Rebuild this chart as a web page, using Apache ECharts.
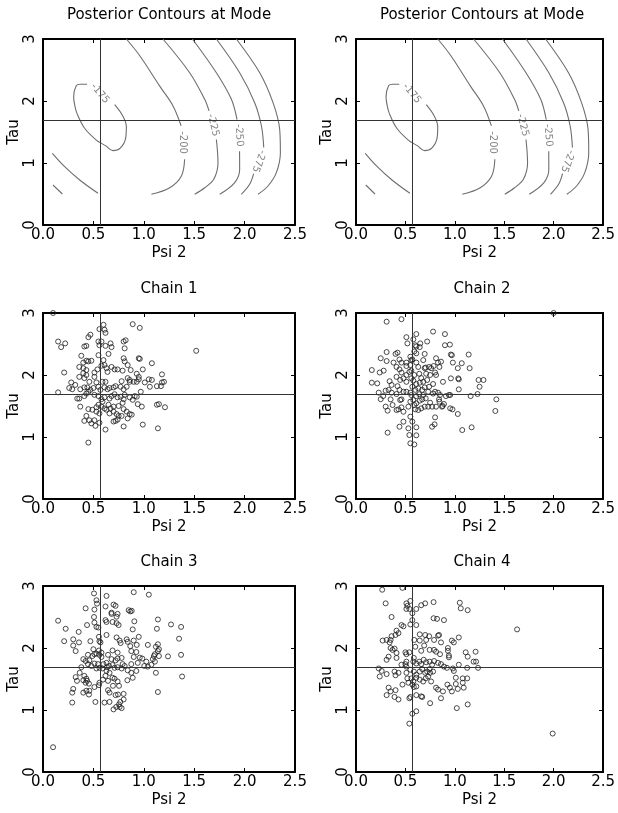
<!DOCTYPE html>
<html>
<head>
<meta charset="utf-8">
<script src="https://cdn.jsdelivr.net/npm/echarts@6/dist/echarts.min.js"></script>
<style>
html,body{margin:0;padding:0;background:#fff;}
#chart{width:618px;height:813px;}
</style>
</head>
<body>
<div id="chart"></div>
<script>
// ---------- data ----------
const X_TICKS = [0.0, 0.5, 1.0, 1.5, 2.0, 2.5];
const Y_TICKS = [0, 1, 2, 3];
const MODE_PSI = 0.57;
const MODE_TAU = 1.69;

const PANEL_TITLES = ['Posterior Contours at Mode', 'Posterior Contours at Mode', 'Chain 1', 'Chain 2', 'Chain 3', 'Chain 4'];

// contour line pieces [psi, tau] (broken where labels sit)
const CONTOUR_175 = [[0.437,2.27],[0.37,2.27],[0.331,2.25],[0.304,2.07],[0.315,1.93],[0.337,1.80],[0.413,1.56],[0.529,1.37],[0.62,1.28],[0.694,1.20],[0.767,1.24],[0.82,1.40],[0.827,1.59],[0.787,1.77],[0.711,1.94]];
const CONTOUR_200A = [[0.827,3.0],[0.96,2.73],[1.158,2.24],[1.29,1.92],[1.37,1.60]];
const CONTOUR_200B = [[1.405,1.06],[1.373,0.79],[1.257,0.60],[1.075,0.495]];
const CONTOUR_225A = [[1.19,3.0],[1.455,2.456],[1.604,2.027],[1.647,1.84]];
const CONTOUR_225B = [[1.72,1.38],[1.736,1.005],[1.694,0.737],[1.604,0.60],[1.505,0.495]];
const CONTOUR_250A = [[1.482,3.0],[1.72,2.456],[1.869,2.027],[1.925,1.70]];
const CONTOUR_250B = [[1.95,1.19],[1.951,0.898],[1.902,0.683],[1.753,0.495]];
const CONTOUR_275A = [[1.72,3.0],[1.951,2.456],[2.10,1.973],[2.167,1.597],[2.19,1.25]];
const CONTOUR_275B = [[2.09,0.83],[2.05,0.656],[1.968,0.495]];
const CONTOUR_300 = [[1.918,3.0],[2.15,2.456],[2.282,1.973],[2.348,1.544],[2.355,1.166],[2.315,0.844],[2.232,0.629],[2.133,0.495]];
const CONTOUR_LOW1 = [[0.093,1.156],[0.215,0.941],[0.364,0.726],[0.546,0.511]];
const CONTOUR_LOW2 = [[0.099,0.645],[0.192,0.50]];
const CONTOUR_LEVELS = ['-175', '-200', '-225', '-250', '-275'];
const CONTOUR_LABEL_AT = [[0.565,2.12],[1.383,1.33],[1.687,1.61],[1.945,1.447],[2.14,1.03]];
const CONTOUR_LABEL_ANGLE = [-50, -90, -76, -86, -110];

const CHAIN1 = [[0.10,3.00],[0.60,2.81],[0.61,2.73],[0.62,2.68],[0.56,2.74],[0.89,2.82],[0.96,2.76],[0.47,2.65],[0.45,2.61],[0.41,2.46],[0.43,2.47],[0.15,2.54],[0.18,2.45],[0.22,2.51],[0.55,2.54],[0.58,2.54],[0.56,2.48],[0.62,2.47],[0.67,2.51],[0.68,2.45],[0.65,2.34],[0.82,2.56],[0.80,2.54],[0.81,2.43],[1.52,2.39],[0.38,2.31],[0.43,2.23],[0.40,2.20],[0.45,2.22],[0.48,2.23],[0.60,2.24],[0.55,2.32],[0.61,2.16],[0.80,2.27],[0.81,2.22],[0.84,2.16],[0.95,2.27],[0.96,2.26],[1.08,2.19],[0.21,2.04],[0.36,2.13],[0.40,2.11],[0.43,2.08],[0.40,2.03],[0.43,2.00],[0.51,2.04],[0.54,2.09],[0.51,1.97],[0.58,2.15],[0.63,2.11],[0.64,2.05],[0.68,2.13],[0.71,2.09],[0.74,2.09],[0.79,2.07],[0.87,2.08],[0.93,2.02],[0.99,2.09],[1.18,2.01],[0.36,1.97],[0.41,1.95],[0.46,1.89],[0.53,1.88],[0.59,1.89],[0.62,1.89],[0.78,1.90],[0.84,1.95],[0.86,1.92],[0.86,1.89],[0.90,1.89],[0.95,1.97],[0.95,1.93],[0.93,1.89],[1.05,1.93],[1.08,1.92],[1.01,1.88],[1.18,1.88],[1.20,1.89],[0.28,1.88],[0.32,1.84],[0.26,1.79],[0.37,1.77],[0.41,1.80],[0.44,1.80],[0.47,1.76],[0.50,1.79],[0.55,1.81],[0.57,1.76],[0.61,1.80],[0.64,1.77],[0.66,1.79],[0.70,1.80],[0.72,1.82],[0.77,1.81],[0.80,1.77],[0.83,1.81],[0.15,1.72],[0.29,1.77],[1.06,1.81],[1.13,1.82],[1.17,1.82],[0.97,1.73],[0.36,1.62],[0.34,1.62],[0.41,1.66],[0.43,1.70],[0.45,1.73],[0.51,1.68],[0.55,1.66],[0.58,1.61],[0.59,1.57],[0.61,1.64],[0.66,1.62],[0.68,1.66],[0.71,1.69],[0.74,1.64],[0.77,1.65],[0.80,1.61],[0.79,1.55],[0.81,1.68],[0.86,1.64],[0.89,1.60],[0.93,1.65],[0.94,1.53],[0.91,1.66],[0.55,1.52],[0.53,1.48],[0.58,1.49],[0.61,1.46],[0.65,1.52],[0.67,1.46],[0.70,1.49],[0.75,1.50],[0.37,1.49],[0.45,1.45],[0.43,1.34],[0.49,1.44],[0.53,1.41],[0.56,1.38],[0.63,1.44],[0.66,1.38],[0.70,1.41],[0.73,1.37],[0.75,1.34],[0.78,1.34],[0.83,1.41],[0.86,1.37],[0.88,1.36],[0.84,1.30],[0.80,1.45],[0.98,1.49],[1.13,1.52],[1.15,1.53],[1.21,1.48],[0.41,1.26],[0.46,1.27],[0.48,1.22],[0.51,1.27],[0.52,1.18],[0.56,1.23],[0.70,1.25],[0.72,1.26],[0.74,1.28],[0.80,1.17],[0.99,1.20],[1.14,1.14],[0.62,1.12],[0.45,0.91]];

const CHAIN2 = [[2.0,3.0],[0.31,2.86],[0.46,2.90],[0.61,2.66],[0.51,2.61],[0.58,2.575],[0.52,2.51],[0.65,2.51],[0.72,2.54],[0.78,2.70],[0.90,2.66],[0.60,2.48],[0.61,2.46],[0.645,2.45],[0.59,2.38],[0.61,2.35],[0.695,2.34],[0.90,2.48],[0.95,2.49],[0.40,2.34],[0.42,2.36],[0.31,2.37],[0.25,2.27],[0.31,2.225],[0.38,2.20],[0.44,2.25],[0.46,2.20],[0.51,2.20],[0.55,2.295],[0.56,2.24],[0.57,2.25],[0.55,2.16],[0.61,2.20],[0.68,2.24],[0.81,2.27],[0.83,2.20],[0.86,2.215],[0.96,2.33],[0.97,2.32],[0.98,2.20],[1.07,2.19],[1.14,2.33],[1.15,2.11],[1.03,2.11],[0.16,2.08],[0.24,2.04],[0.28,2.07],[0.16,1.876],[0.215,1.865],[0.34,1.90],[0.41,2.13],[0.44,2.09],[0.46,2.04],[0.51,2.145],[0.54,2.05],[0.51,2.00],[0.56,2.07],[0.59,2.00],[0.63,2.13],[0.695,2.11],[0.705,2.12],[0.74,2.13],[0.76,2.11],[0.785,2.145],[0.80,2.04],[0.81,2.00],[0.844,2.13],[0.75,2.00],[0.71,2.02],[0.64,2.02],[0.66,1.95],[0.68,1.89],[0.72,1.92],[0.645,1.876],[0.61,1.855],[0.58,1.91],[0.56,1.946],[0.447,1.92],[0.48,1.946],[0.51,1.89],[0.41,1.97],[0.42,1.82],[0.36,1.84],[0.44,1.76],[0.88,1.89],[0.96,1.946],[1.035,1.946],[1.04,1.93],[1.24,1.92],[1.29,1.92],[1.25,1.81],[0.78,1.855],[0.74,1.81],[0.695,1.80],[0.67,1.76],[0.63,1.785],[0.60,1.76],[0.57,1.81],[0.55,1.715],[0.56,1.677],[0.51,1.73],[0.48,1.73],[0.41,1.693],[0.36,1.715],[0.33,1.76],[0.30,1.747],[0.23,1.715],[0.275,1.66],[0.25,1.61],[0.61,1.66],[0.64,1.69],[0.68,1.677],[0.73,1.73],[0.78,1.70],[0.80,1.73],[0.83,1.715],[0.85,1.677],[0.91,1.66],[0.94,1.677],[0.953,1.677],[1.04,1.768],[1.16,1.66],[1.23,1.693],[1.42,1.607],[0.447,1.596],[0.46,1.607],[0.35,1.607],[0.30,1.49],[0.32,1.425],[0.37,1.516],[0.41,1.435],[0.43,1.446],[0.46,1.478],[0.48,1.408],[0.53,1.489],[0.55,1.57],[0.58,1.596],[0.59,1.516],[0.61,1.543],[0.645,1.586],[0.67,1.607],[0.705,1.623],[0.60,1.446],[0.63,1.435],[0.66,1.462],[0.695,1.489],[0.73,1.489],[0.75,1.553],[0.77,1.489],[0.81,1.489],[0.844,1.57],[0.877,1.50],[0.89,1.532],[0.84,1.607],[0.87,1.489],[0.953,1.462],[0.976,1.446],[1.03,1.371],[1.41,1.42],[0.55,1.328],[0.57,1.247],[0.48,1.247],[0.44,1.166],[0.53,1.14],[0.61,1.156],[0.80,1.317],[0.795,1.204],[0.77,1.166],[1.075,1.112],[1.17,1.156],[0.32,1.07],[0.54,1.032],[0.61,1.027],[0.55,0.898],[0.59,0.88]];

const CHAIN3 = [[0.10,0.40],[0.15,2.44],[0.225,2.31],[0.354,2.26],[0.21,2.11],[0.30,2.14],[0.30,2.04],[0.357,2.09],[0.324,1.95],[0.423,2.64],[0.437,2.37],[0.47,2.11],[0.506,2.88],[0.53,2.77],[0.536,2.715],[0.51,2.62],[0.506,2.50],[0.51,2.41],[0.53,2.34],[0.55,2.33],[0.63,2.84],[0.62,2.67],[0.70,2.70],[0.72,2.68],[0.68,2.57],[0.68,2.55],[0.74,2.55],[0.73,2.505],[0.62,2.45],[0.63,2.42],[0.69,2.42],[0.73,2.40],[0.75,2.37],[0.63,2.21],[0.555,2.18],[0.57,2.09],[0.56,2.11],[0.73,2.17],[0.76,2.12],[0.77,2.08],[0.85,2.61],[0.866,2.59],[0.88,2.60],[0.90,2.90],[1.05,2.86],[0.906,2.43],[0.89,2.30],[1.14,2.46],[1.13,2.31],[1.27,2.38],[1.37,2.34],[1.35,2.15],[1.37,1.89],[1.38,1.54],[1.14,2.06],[1.15,1.98],[1.12,2.02],[1.04,2.05],[0.95,2.18],[0.93,2.05],[0.90,2.12],[0.83,2.14],[0.84,2.10],[0.866,2.03],[0.876,1.95],[0.926,1.935],[0.90,1.855],[0.96,1.845],[0.985,1.83],[1.025,1.78],[1.09,1.82],[1.10,1.87],[1.11,1.90],[1.14,1.95],[1.15,1.87],[1.24,1.865],[1.04,1.70],[1.075,1.73],[1.11,1.78],[1.12,1.60],[1.14,1.29],[1.005,1.71],[0.94,1.76],[0.876,1.74],[0.84,1.64],[0.876,1.60],[0.926,1.63],[0.89,1.52],[0.837,1.48],[0.81,1.71],[0.79,1.74],[0.78,1.84],[0.74,1.83],[0.72,1.80],[0.74,1.925],[0.69,1.96],[0.645,1.89],[0.68,1.82],[0.63,1.76],[0.635,1.69],[0.655,1.71],[0.69,1.725],[0.71,1.68],[0.74,1.69],[0.78,1.67],[0.60,1.74],[0.59,1.67],[0.56,1.68],[0.546,1.74],[0.58,1.855],[0.56,1.89],[0.58,1.925],[0.555,1.96],[0.53,1.91],[0.50,1.98],[0.51,1.90],[0.49,1.87],[0.446,1.89],[0.46,1.80],[0.423,1.79],[0.446,1.74],[0.48,1.71],[0.51,1.75],[0.53,1.67],[0.40,1.82],[0.38,1.69],[0.364,1.60],[0.41,1.55],[0.43,1.505],[0.437,1.47],[0.456,1.425],[0.423,1.44],[0.40,1.48],[0.337,1.47],[0.324,1.53],[0.30,1.34],[0.29,1.28],[0.29,1.12],[0.40,1.28],[0.43,1.31],[0.46,1.31],[0.456,1.25],[0.51,1.37],[0.52,1.13],[0.56,1.44],[0.555,1.40],[0.63,1.63],[0.66,1.60],[0.69,1.52],[0.71,1.505],[0.74,1.46],[0.754,1.39],[0.694,1.39],[0.645,1.32],[0.66,1.28],[0.72,1.24],[0.744,1.25],[0.80,1.26],[0.80,1.17],[0.767,1.13],[0.754,1.09],[0.727,1.05],[0.70,1.01],[0.76,1.05],[0.78,1.03],[0.66,1.13],[0.61,1.12],[0.62,1.55],[0.595,1.49],[0.645,1.47]];

const CHAIN4 = [[0.265,2.94],[0.47,2.97],[0.30,2.72],[0.51,2.72],[0.52,2.68],[0.55,2.76],[0.51,2.63],[0.54,2.63],[0.61,2.63],[0.57,2.56],[0.66,2.69],[0.70,2.72],[0.785,2.74],[1.05,2.73],[1.06,2.64],[1.13,2.61],[0.36,2.50],[0.57,2.45],[0.785,2.48],[0.82,2.47],[0.89,2.45],[1.63,2.30],[0.46,2.37],[0.48,2.35],[0.55,2.38],[0.61,2.37],[0.41,2.28],[0.43,2.24],[0.40,2.21],[0.36,2.19],[0.31,2.13],[0.27,2.12],[0.34,2.09],[0.35,2.13],[0.645,2.22],[0.70,2.21],[0.74,2.19],[0.83,2.20],[0.84,2.21],[1.04,2.17],[0.59,2.13],[0.645,2.12],[0.71,2.13],[0.79,2.13],[0.86,2.09],[0.97,2.12],[0.99,2.09],[0.35,2.00],[0.37,1.97],[0.39,1.99],[0.41,1.92],[0.41,1.84],[0.33,1.86],[0.31,1.81],[0.50,1.93],[0.51,1.90],[0.54,1.93],[0.60,2.02],[0.69,2.04],[0.66,1.955],[0.745,1.97],[0.79,1.97],[0.81,1.94],[0.85,1.90],[0.93,2.00],[0.93,1.955],[0.94,1.88],[0.94,1.85],[1.11,1.93],[1.21,1.94],[1.215,1.78],[1.19,1.78],[1.13,1.86],[1.235,1.68],[1.04,1.73],[1.125,1.68],[0.51,1.78],[0.50,1.74],[0.51,1.70],[0.46,1.73],[0.585,1.84],[0.58,1.78],[0.61,1.75],[0.64,1.78],[0.66,1.74],[0.685,1.81],[0.71,1.77],[0.745,1.78],[0.77,1.73],[0.79,1.79],[0.83,1.76],[0.86,1.74],[0.89,1.70],[0.92,1.68],[0.98,1.67],[0.99,1.63],[0.23,1.67],[0.26,1.63],[0.31,1.58],[0.24,1.54],[0.39,1.62],[0.40,1.56],[0.43,1.60],[0.51,1.60],[0.55,1.65],[0.585,1.62],[0.61,1.57],[0.645,1.62],[0.67,1.66],[0.70,1.60],[0.72,1.62],[0.745,1.66],[0.75,1.60],[0.78,1.62],[0.52,1.51],[0.56,1.51],[0.58,1.46],[0.61,1.52],[0.645,1.49],[0.68,1.46],[0.705,1.51],[0.73,1.54],[0.76,1.46],[0.57,1.41],[0.585,1.37],[0.61,1.38],[0.53,1.44],[0.47,1.41],[0.33,1.36],[0.35,1.30],[0.31,1.24],[0.40,1.32],[0.39,1.21],[0.43,1.17],[0.54,1.19],[0.55,1.21],[0.61,1.24],[0.66,1.22],[0.67,1.21],[0.81,1.36],[0.83,1.33],[0.88,1.30],[0.86,1.19],[0.925,1.41],[0.95,1.36],[0.97,1.30],[1.01,1.42],[1.01,1.52],[1.03,1.34],[1.08,1.44],[1.08,1.51],[1.09,1.36],[1.125,1.51],[0.75,1.11],[1.02,1.03],[1.13,1.09],[0.57,0.94],[0.61,0.98],[0.54,0.78],[1.99,0.62]];

const CHAINS = [CHAIN1, CHAIN2, CHAIN3, CHAIN4];
const CONTOUR_PIECES = [CONTOUR_175, CONTOUR_200A, CONTOUR_200B, CONTOUR_225A, CONTOUR_225B, CONTOUR_250A, CONTOUR_250B, CONTOUR_275A, CONTOUR_275B, CONTOUR_300, CONTOUR_LOW1, CONTOUR_LOW2];

// ---------- layout ----------
const GRID_LEFTS = [43, 356];
const GRID_TOPS = [39, 313, 586];
const GRID_W = 252, GRID_H = 186;
const FONT = 'DejaVu Sans';

const grids = [], xAxes = [], yAxes = [], series = [], titles = [];

function baseAxis(extra) {
  return Object.assign({
    type: 'value',
    axisLine: {show: true, onZero: false, lineStyle: {color: '#000', width: 2}},
    axisTick: {show: true, inside: true, length: 4, lineStyle: {color: '#000', width: 1}},
    splitLine: {show: false},
  }, extra);
}

PANEL_TITLES.forEach((title, i) => {
  const col = i % 2, row = Math.floor(i / 2);
  const left = GRID_LEFTS[col], top = GRID_TOPS[row];
  grids.push({left: left, top: top, width: GRID_W, height: GRID_H, containLabel: false});
  titles.push({
    text: title, left: left + GRID_W / 2, top: top - 31, textAlign: 'center', padding: 0,
    textStyle: {fontFamily: FONT, fontSize: 15, fontWeight: 'normal', color: '#000'}
  });
  const xmin = X_TICKS[0], xmax = X_TICKS[X_TICKS.length - 1];
  const ymin = Y_TICKS[0], ymax = Y_TICKS[Y_TICKS.length - 1];
  xAxes.push(baseAxis({
    gridIndex: i, position: 'bottom', min: xmin, max: xmax, interval: 0.5,
    axisLabel: {show: true, margin: 3, fontFamily: FONT, fontSize: 15, color: '#000', formatter: v => v.toFixed(1)},
    name: 'Psi 2', nameLocation: 'middle', nameGap: 21,
    nameTextStyle: {fontFamily: FONT, fontSize: 15, color: '#000'}
  }));
  xAxes.push(baseAxis({
    gridIndex: i, position: 'top', min: xmin, max: xmax, interval: 0.5,
    axisLabel: {show: false}
  }));
  yAxes.push(baseAxis({
    gridIndex: i, position: 'left', min: ymin, max: ymax, interval: 1,
    axisLabel: {show: true, rotate: 90, margin: 5, fontFamily: FONT, fontSize: 15, color: '#000', formatter: v => String(v)},
    name: 'Tau', nameLocation: 'middle', nameRotate: 90, nameGap: 16,
    nameTextStyle: {fontFamily: FONT, fontSize: 15, color: '#000'}
  }));
  yAxes.push(baseAxis({
    gridIndex: i, position: 'right', min: ymin, max: ymax, interval: 1,
    axisLabel: {show: false}
  }));
  const xi = 2 * i, yi = 2 * i;
  const modeLines = {
    silent: true, symbol: ['none', 'none'], label: {show: false},
    lineStyle: {color: '#333', width: 1, type: 'solid'},
    emphasis: {disabled: true},
    data: [{xAxis: MODE_PSI}, {yAxis: MODE_TAU}]
  };
  if (row === 0) {
    CONTOUR_PIECES.forEach((piece, k) => {
      series.push({
        type: 'line', xAxisIndex: xi, yAxisIndex: yi, data: piece, smooth: 0.35,
        symbol: 'none', lineStyle: {color: '#6e6e6e', width: 1.1}, silent: true,
        markLine: k === 0 ? modeLines : undefined
      });
    });
    series.push({
      type: 'scatter', xAxisIndex: xi, yAxisIndex: yi, symbolSize: 1,
      itemStyle: {color: 'rgba(0,0,0,0)'}, silent: true,
      data: CONTOUR_LEVELS.map((lvl, k) => ({
        value: CONTOUR_LABEL_AT[k], name: lvl,
        label: {rotate: CONTOUR_LABEL_ANGLE[k]}
      })),
      label: {show: true, position: 'inside', formatter: p => p.name, fontFamily: FONT, fontSize: 10, color: '#666'}
    });
  } else {
    const chain = CHAINS[i - 2];
    series.push({
      type: 'scatter', xAxisIndex: xi, yAxisIndex: yi, data: chain,
      symbol: 'circle', symbolSize: 5, clip: false,
      itemStyle: {color: 'rgba(0,0,0,0)', borderColor: '#1e1e1e', borderWidth: 1},
      markLine: modeLines, silent: true
    });
  }
});

const chart = echarts.init(document.getElementById('chart'), null, {renderer: 'canvas'});
chart.setOption({
  animation: false,
  backgroundColor: '#fff',
  title: titles,
  grid: grids,
  xAxis: xAxes,
  yAxis: yAxes,
  series: series
});
</script>
</body>
</html>
